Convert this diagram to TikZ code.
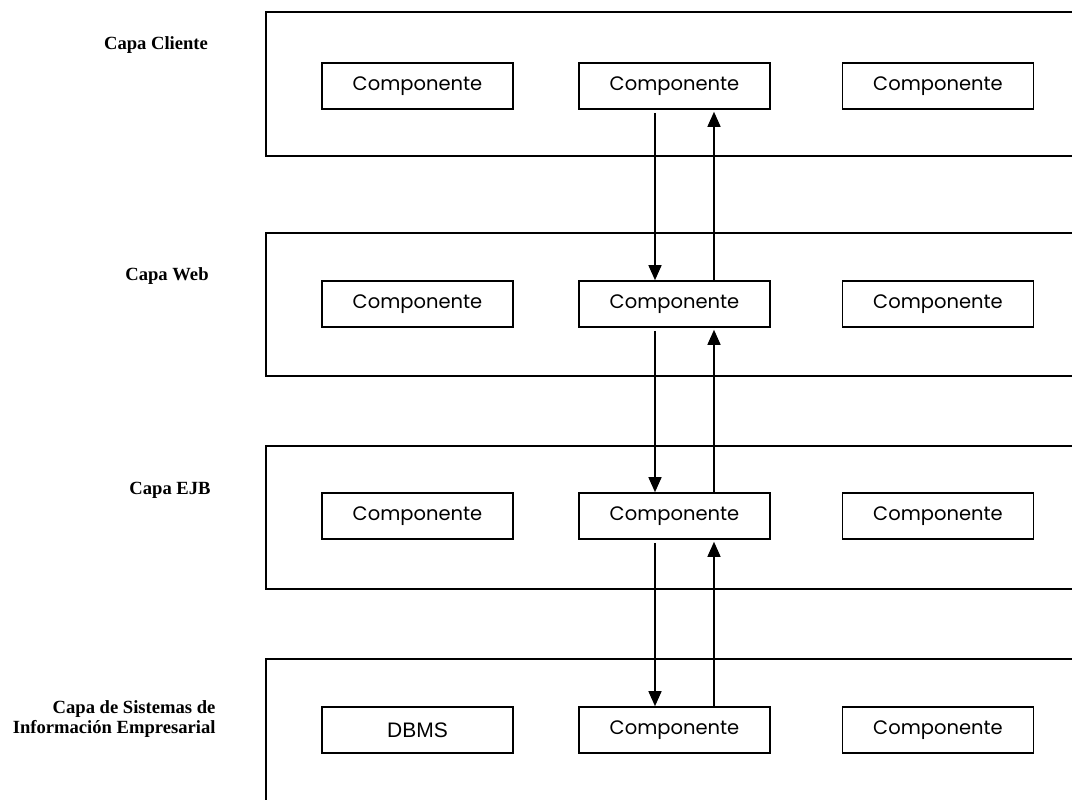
\documentclass[tikz,border=0pt]{standalone}
\usepackage{fontspec}
\setmainfont{Liberation Serif}
\newfontfamily\compfont{Poppins}
\newfontfamily\plainsans{Liberation Sans}
\usetikzlibrary{arrows.meta}
\begin{document}
\begin{tikzpicture}[x=1pt,y=-1pt,
  layerframe/.style={line width=2pt},
  comp/.style={draw, line width=1.6pt, minimum width=191pt, minimum height=46pt,
    inner sep=0pt, font=\compfont\fontsize{19.5}{22}\selectfont},
  layername/.style={font=\bfseries\fontsize{18.6}{19.5}\selectfont},
  flow/.style={line width=1.4pt, -{Triangle[width=13pt,length=15pt]}}
]
\useasboundingbox (0,0) rectangle (1072,800);

% layer frames (open to the right)
\draw[layerframe] (1072,12) -- (266,12) -- (266,156) -- (1072,156);
\draw[layerframe] (1072,233) -- (266,233) -- (266,376) -- (1072,376);
\draw[layerframe] (1072,446) -- (266,446) -- (266,589) -- (1072,589);
\draw[layerframe] (1072,659) -- (266,659) -- (266,800);

% layer names
\node[layername] (n1) at (156,45) {Capa Cliente};
\node[layername] (n2) at (167,276) {Capa Web};
\node[layername] (n3) at (170,490) {Capa EJB};
\node[layername, anchor=east, align=right] (n4) at (219,719)
  {Capa de Sistemas de\\Información Empresarial};

% components
\node[comp] (c11) at (417.5,86) {Componente};
\node[comp] (c12) at (674.5,86) {Componente};
\node[comp] (c13) at (938,86) {Componente};
\node[comp] (c21) at (417.5,304) {Componente};
\node[comp] (c22) at (674.5,304) {Componente};
\node[comp] (c23) at (938,304) {Componente};
\node[comp] (c31) at (417.5,516) {Componente};
\node[comp] (c32) at (674.5,516) {Componente};
\node[comp] (c33) at (938,516) {Componente};
\node[comp, font=\plainsans\fontsize{21}{24}\selectfont] (c41) at (417.5,730) {DBMS};
\node[comp] (c42) at (674.5,730) {Componente};
\node[comp] (c43) at (938,730) {Componente};

% requests down, responses up
\foreach \a/\b in {c12/c22, c22/c32, c32/c42}{
  \draw[flow, shorten <=3pt] ([xshift=-19.5pt]\a.south) -- ([xshift=-19.5pt]\b.north);
  \draw[flow, shorten >=2pt] ([xshift=39.5pt]\b.north) -- ([xshift=39.5pt]\a.south);
}
\end{tikzpicture}
\end{document}
